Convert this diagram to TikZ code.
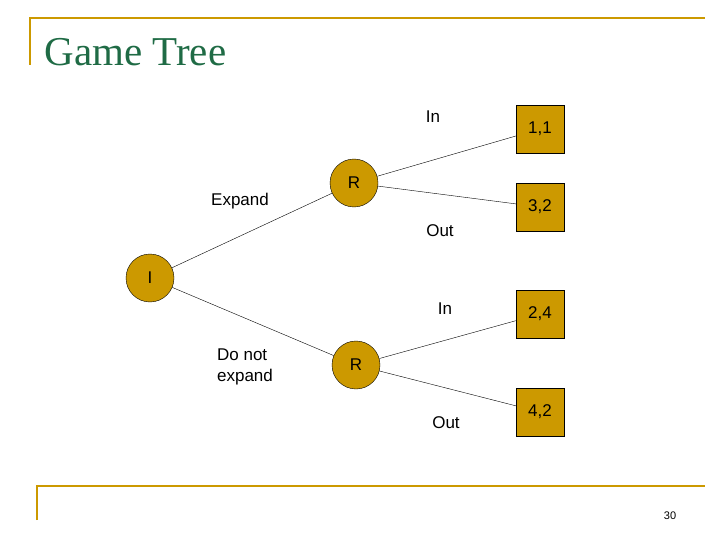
\documentclass[tikz,border=0pt]{standalone}
\usepackage{fontspec}
\setmainfont{Liberation Sans}
\newfontfamily\titlefont{Liberation Serif}
\definecolor{gold}{HTML}{CC9900}
\definecolor{ttl}{HTML}{1F6B45}
\begin{document}
\begin{tikzpicture}[x=1pt,y=-1pt,
  dec/.style={circle,draw,fill=gold,minimum size=48pt,inner sep=0pt,font=\fontsize{17}{20}\selectfont},
  pay/.style={draw,fill=gold,minimum size=48pt,inner sep=0pt,font=\fontsize{17}{20}\selectfont},
  lab/.style={font=\fontsize{17}{21}\selectfont,align=left}]
\useasboundingbox (0,0) rectangle (720,540);
\draw[gold,line width=2.5pt] (30,65) -- (30,18) -- (705,18);
\draw[gold,line width=2.5pt] (37,520) -- (37,486) -- (705,486);
\node[anchor=west,text=ttl,font=\titlefont\fontsize{41}{46}\selectfont] (t) at (41,52) {Game Tree};
\node[font=\fontsize{11}{13}\selectfont] (pg) at (670,516) {30};
\node[dec] (I) at (150,278) {I};
\node[dec] (R1) at (354,183) {R};
\node[dec] (R2) at (356,365) {R};
\node[pay] (p1) at (540,129) {1,1};
\node[pay] (p2) at (540,207) {3,2};
\node[pay] (p3) at (540,314) {2,4};
\node[pay] (p4) at (540,412) {4,2};
\draw (I) -- (R1);
\draw (I) -- (R2);
\draw (R1) -- (p1);
\draw (R1) -- (p2);
\draw (R2) -- (p3);
\draw (R2) -- (p4);
\node[lab] (l1) at (240,201) {Expand};
\node[lab] (l2) at (245,367) {Do not\\expand};
\node[lab] (l3) at (433,117) {In};
\node[lab] (l4) at (440,231) {Out};
\node[lab] (l5) at (445,309) {In};
\node[lab] (l6) at (446,423) {Out};
\end{tikzpicture}
\end{document}
